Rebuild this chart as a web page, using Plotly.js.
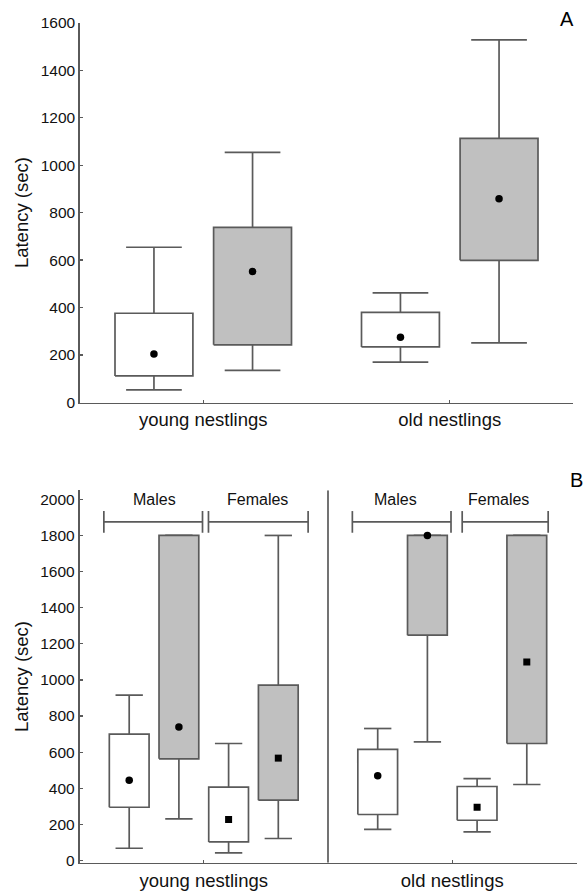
<!DOCTYPE html>
<html><head><meta charset="utf-8">
<script src="https://cdn.plot.ly/plotly-3.0.1.min.js"></script>
<style>html,body{margin:0;padding:0;background:#fff}#chart{width:586px;height:891px}</style>
</head><body><div id="chart"></div>
<script>
// ---------- DATA ----------
// Panel A (two series per age group: white and gray)
const groupsA = ['young nestlings', 'old nestlings'];
const aWhiteQ1  = [112, 234];
const aWhiteQ3  = [376, 380];
const aWhiteLo  = [53, 170];
const aWhiteHi  = [654, 462];
const aWhiteMid = [204, 275];
const aGrayQ1   = [243, 599];
const aGrayQ3   = [738, 1113];
const aGrayLo   = [135, 251];
const aGrayHi   = [1054, 1528];
const aGrayMid  = [552, 858];

// Panel B (males / females, white and gray, per age group)
const groupsB = ['young nestlings', 'old nestlings'];
const sexLabels = ['Males', 'Females'];
const bMaleWhiteQ1  = [295, 255];
const bMaleWhiteQ3  = [700, 615];
const bMaleWhiteLo  = [68, 172];
const bMaleWhiteHi  = [916, 731];
const bMaleWhiteMid = [445, 469];
const bMaleGrayQ1   = [563, 1248];
const bMaleGrayQ3   = [1800, 1800];
const bMaleGrayLo   = [231, 657];
const bMaleGrayHi   = [1800, 1800];
const bMaleGrayMid  = [739, 1800];
const bFemWhiteQ1   = [103, 223];
const bFemWhiteQ3   = [406, 410];
const bFemWhiteLo   = [42, 159];
const bFemWhiteHi   = [648, 454];
const bFemWhiteMid  = [227, 295];
const bFemGrayQ1    = [334, 648];
const bFemGrayQ3    = [971, 1800];
const bFemGrayLo    = [122, 421];
const bFemGrayHi    = [1800, 1800];
const bFemGrayMid   = [567, 1099];

// ---------- STYLE / LAYOUT CONSTANTS ----------
const LINE = '#5a5a5a';
const GRAYFILL = '#c0c0c0';
const FONT = '"Liberation Sans", Arial, sans-serif';
const W = 586, H = 891;

function boxTraces(groupIdx, offset, hw, cw, q1, q3, lo, hi, mid, fill, symbol, msize, xa, ya) {
  const bx = [], by = [], wx = [], wy = [], mx = [];
  for (let i = 0; i < groupIdx.length; i++) {
    const c = groupIdx[i] + offset;
    bx.push(c - hw, c + hw, c + hw, c - hw, c - hw, null);
    by.push(q1[i], q1[i], q3[i], q3[i], q1[i], null);
    wx.push(c, c, null, c - cw, c + cw, null, c, c, null, c - cw, c + cw, null);
    wy.push(q3[i], hi[i], null, hi[i], hi[i], null, q1[i], lo[i], null, lo[i], lo[i], null);
    mx.push(c);
  }
  return [
    {type: 'scatter', mode: 'lines', x: wx, y: wy, xaxis: xa, yaxis: ya,
     line: {color: LINE, width: 1.7}, hoverinfo: 'skip', showlegend: false},
    {type: 'scatter', mode: 'lines', x: bx, y: by, xaxis: xa, yaxis: ya, fill: 'toself',
     fillcolor: fill, line: {color: LINE, width: 1.7}, hoverinfo: 'skip', showlegend: false},
    {type: 'scatter', mode: 'markers', x: mx, y: mid, xaxis: xa, yaxis: ya,
     marker: {color: '#000', size: msize, symbol: symbol}, showlegend: false}
  ];
}

const idxA = groupsA.map((_, i) => i);
const idxB = groupsB.map((_, i) => i);

let traces = [];
// Panel A
traces = traces.concat(boxTraces(idxA, -0.2, 0.158, 0.113, aWhiteQ1, aWhiteQ3, aWhiteLo, aWhiteHi, aWhiteMid, '#ffffff', 'circle', 7.5, 'x', 'y'));
traces = traces.concat(boxTraces(idxA, 0.2, 0.158, 0.113, aGrayQ1, aGrayQ3, aGrayLo, aGrayHi, aGrayMid, GRAYFILL, 'circle', 7.5, 'x', 'y'));
// Panel B
traces = traces.concat(boxTraces(idxB, -0.3, 0.08, 0.055, bMaleWhiteQ1, bMaleWhiteQ3, bMaleWhiteLo, bMaleWhiteHi, bMaleWhiteMid, '#ffffff', 'circle', 7.5, 'x2', 'y2'));
traces = traces.concat(boxTraces(idxB, -0.1, 0.08, 0.055, bMaleGrayQ1, bMaleGrayQ3, bMaleGrayLo, bMaleGrayHi, bMaleGrayMid, GRAYFILL, 'circle', 7.5, 'x2', 'y2'));
traces = traces.concat(boxTraces(idxB, 0.1, 0.08, 0.055, bFemWhiteQ1, bFemWhiteQ3, bFemWhiteLo, bFemWhiteHi, bFemWhiteMid, '#ffffff', 'square', 7, 'x2', 'y2'));
traces = traces.concat(boxTraces(idxB, 0.3, 0.08, 0.055, bFemGrayQ1, bFemGrayQ3, bFemGrayLo, bFemGrayHi, bFemGrayMid, GRAYFILL, 'square', 7, 'x2', 'y2'));

// Brackets for Males / Females in panel B
const bracketSpans = [
  [[-0.402, -0.005], [0.019, 0.42]],   // young: males, females
  [[-0.402, -0.005], [0.04, 0.386]]    // old
];
const labelOffsets = [[-0.197, 0.216], [-0.228, 0.186]];
const BRK_Y = 1875, BRK_T = 60, LABEL_Y = 2000;
const kx = [], ky = [];
idxB.forEach((g, gi) => {
  bracketSpans[gi].forEach(([a, b]) => {
    kx.push(g + a, g + b, null, g + a, g + a, null, g + b, g + b, null);
    ky.push(BRK_Y, BRK_Y, null, BRK_Y - BRK_T, BRK_Y + BRK_T, null, BRK_Y - BRK_T, BRK_Y + BRK_T, null);
  });
});
traces.push({type: 'scatter', mode: 'lines', x: kx, y: ky, xaxis: 'x2', yaxis: 'y2',
  line: {color: LINE, width: 1.7}, hoverinfo: 'skip', showlegend: false});

const annotations = [
  {text: 'A', xref: 'paper', yref: 'paper', x: 567 / W, y: 1 - 19 / H, xanchor: 'center', yanchor: 'middle',
   showarrow: false, font: {family: FONT, size: 20, color: '#000'}},
  {text: 'B', xref: 'paper', yref: 'paper', x: 576 / W, y: 1 - 480 / H, xanchor: 'center', yanchor: 'middle',
   showarrow: false, font: {family: FONT, size: 20, color: '#000'}}
];
idxB.forEach((g, gi) => {
  sexLabels.forEach((s, si) => {
    annotations.push({text: s, xref: 'x2', yref: 'y2', x: g + labelOffsets[gi][si], y: LABEL_Y,
      xanchor: 'center', yanchor: 'middle', showarrow: false,
      font: {family: FONT, size: 16, color: '#111'}});
  });
});

const axisCommon = {
  showline: true, linecolor: LINE, linewidth: 1.7, showgrid: false, zeroline: false,
  ticks: 'inside', ticklen: 3, tickcolor: LINE, tickwidth: 1.2, fixedrange: true,
  tickfont: {family: FONT, size: 15.5, color: '#111'}
};

const layout = {
  width: W, height: H, margin: {l: 0, r: 0, t: 0, b: 0},
  paper_bgcolor: '#fff', plot_bgcolor: '#fff', showlegend: false,
  font: {family: FONT, color: '#111'},
  xaxis: Object.assign({}, axisCommon, {
    domain: [80 / W, 573 / W], range: [-0.5, 1.5], tickvals: idxA, ticktext: groupsA,
    anchor: 'y', tickfont: {family: FONT, size: 18.5, color: '#111'}
  }),
  yaxis: Object.assign({}, axisCommon, {
    domain: [1 - 402.5 / H, 1 - 22.7 / H], range: [0, 1600], tick0: 0, dtick: 200, anchor: 'x',
    title: {text: 'Latency (sec)', font: {family: FONT, size: 18.5, color: '#111'}, standoff: 7}
  }),
  xaxis2: Object.assign({}, axisCommon, {
    domain: [79.5 / W, 576.5 / W], range: [-0.5, 1.5], tickvals: idxB, ticktext: groupsB,
    anchor: 'y2', tickfont: {family: FONT, size: 18.5, color: '#111'}
  }),
  yaxis2: Object.assign({}, axisCommon, {
    domain: [1 - 862.7 / H, 1 - 490.3 / H], range: [-12, 2050], tick0: 0, dtick: 200, anchor: 'x2',
    title: {text: 'Latency (sec)', font: {family: FONT, size: 18.5, color: '#111'}, standoff: 7}
  }),
  shapes: [
    {type: 'line', xref: 'x2', yref: 'y2', x0: 0.5, x1: 0.5, y0: -12, y1: 2050,
     line: {color: LINE, width: 1.7}}
  ],
  annotations: annotations
};

Plotly.newPlot('chart', traces, layout, {displayModeBar: false, staticPlot: true});
</script></body></html>
